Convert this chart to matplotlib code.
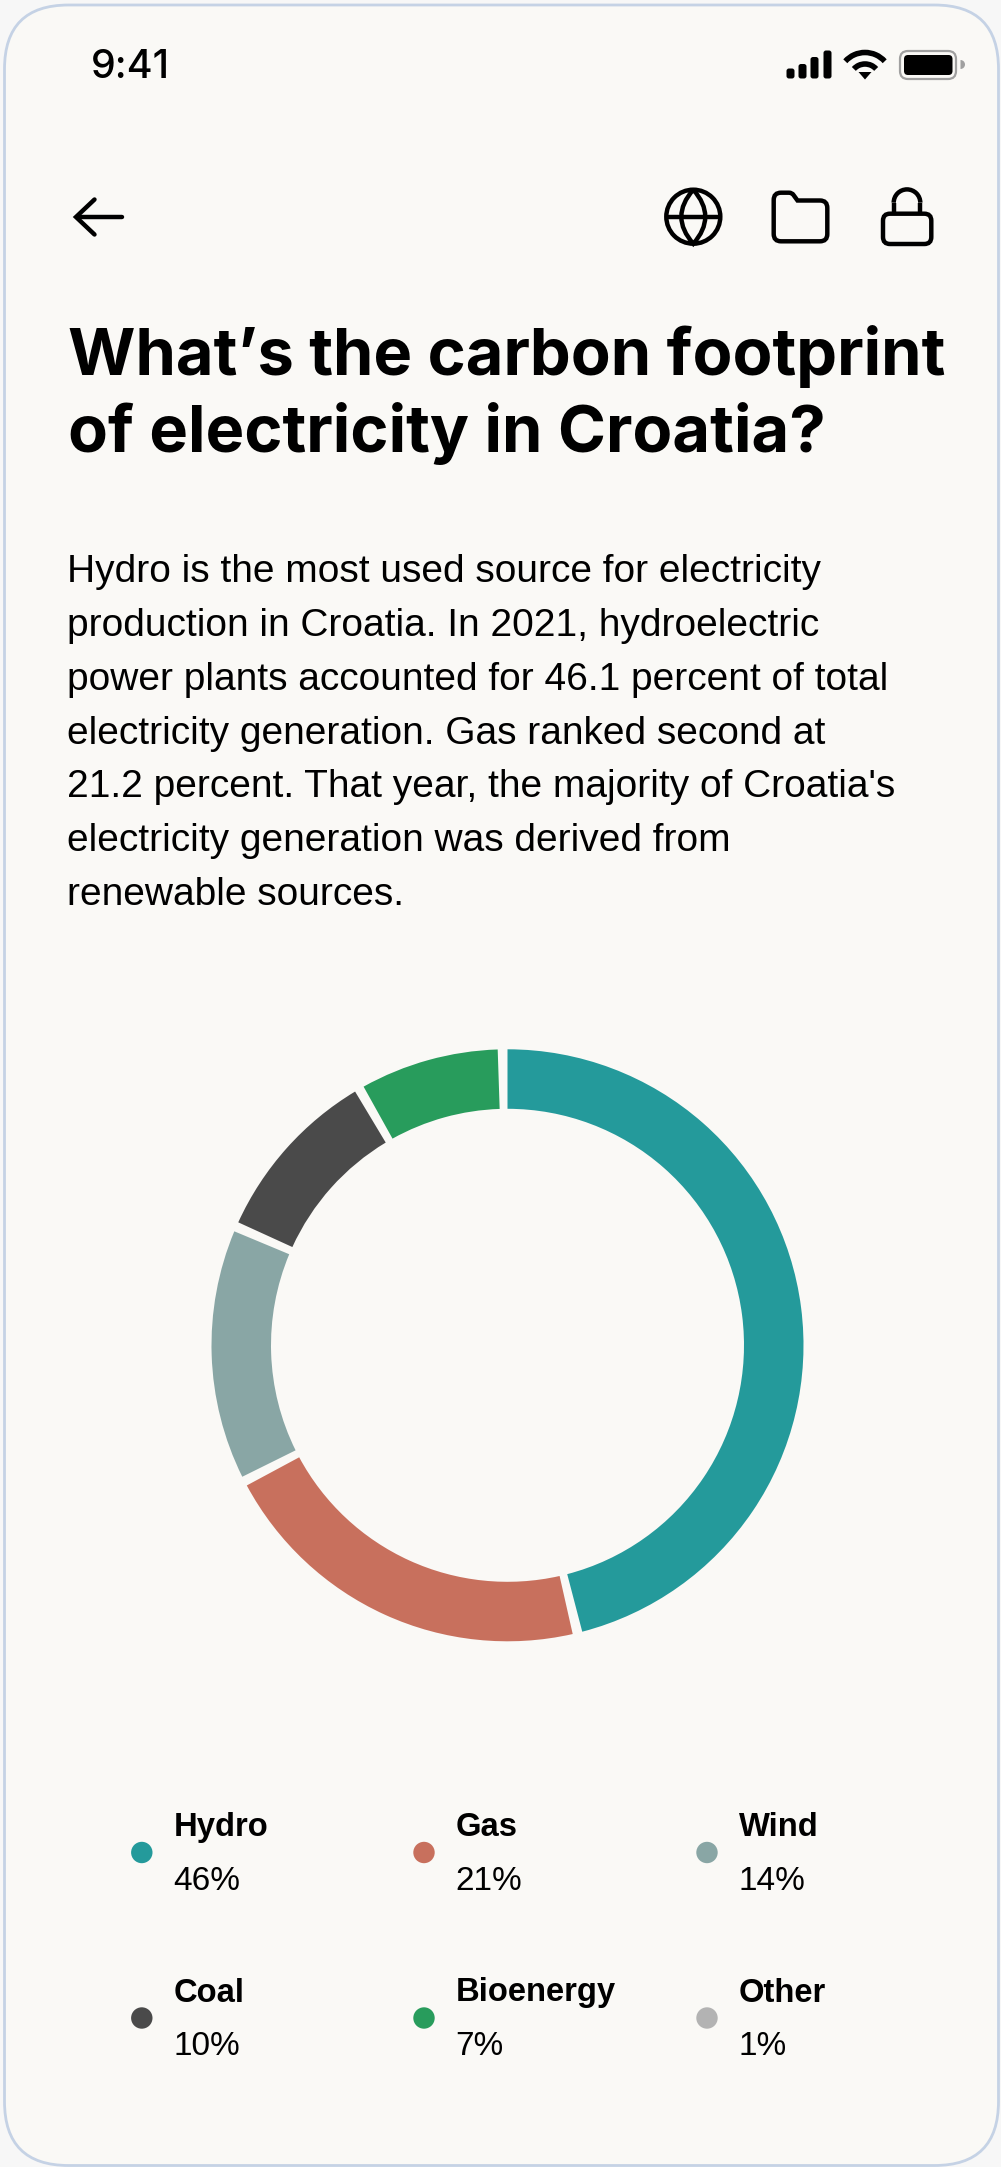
import matplotlib
matplotlib.use('Agg')
import matplotlib.pyplot as plt
from matplotlib.patches import Circle, FancyBboxPatch, Polygon, Arc, PathPatch, Wedge
from matplotlib.path import Path

sources = ['Hydro', 'Gas', 'Wind', 'Coal', 'Bioenergy', 'Other']
shares = [46, 21, 14, 10, 7, 1]
source_colors = ['#249A9B', '#C8705D', '#89A6A5', '#4A4A4A', '#289C5C', '#B3B3B3']

title_lines = ['What\u2019s the carbon footprint', 'of electricity in Croatia?']
body_lines = [
    'Hydro is the most used source for electricity',
    'production in Croatia. In 2021, hydroelectric',
    'power plants accounted for 46.1 percent of total',
    'electricity generation. Gas ranked second at',
    "21.2 percent. That year, the majority of Croatia's",
    'electricity generation was derived from',
    'renewable sources.',
]

BG = '#FAF9F6'
INK = '#000000'
ICON_LW = 3.2
W, H = 1001, 2167

fig = plt.figure(figsize=(W / 100, H / 100), dpi=100, facecolor='#F7F7F7')
page = fig.add_axes([0, 0, 1, 1])
page.set_xlim(0, W)
page.set_ylim(H, 0)
page.axis('off')


def text(x, y, s, size, **kw):
    kw.setdefault('color', INK)
    kw.setdefault('va', 'baseline')
    page.text(x, y, s, fontsize=size, **kw)


def rounded(x0, y0, x1, y1, r, **kw):
    page.add_patch(FancyBboxPatch((x0 + r, y0 + r), x1 - x0 - 2 * r, y1 - y0 - 2 * r,
                                  boxstyle=f'round,pad={r},rounding_size={r}', **kw))


# phone outline
rounded(4.5, 5, 998.5, 2165.5, 64, fc=BG, ec='#C5D2E5', lw=2)

# status bar
text(91, 78, '9:41', 28.4, family='Inter', weight='medium')
for x0, top in zip([786.5, 798.5, 810.5, 823.5], [68.5, 64, 57, 50.5]):
    rounded(x0, top, x0 + 8, 78.5, 2.5, fc=INK, ec='none')
for r in [26.5, 15]:
    page.add_patch(Arc((865, 79), r * 2, r * 2, theta1=222, theta2=318, color=INK, lw=4))
page.add_patch(Polygon([[858.5, 72], [871.5, 72], [865, 79.5]], fc=INK, ec='none'))
rounded(900, 51, 956, 79, 8, fc='none', ec='#A0A0A0', lw=1.6)
rounded(904, 55, 952.5, 75, 4, fc=INK, ec='none')
page.add_patch(Wedge((960.5, 64.5), 4.5, 270, 90, fc='#A0A0A0', ec='none'))

# back arrow
page.plot([77, 122], [217, 217], color=INK, lw=ICON_LW, solid_capstyle='round')
page.plot([94.5, 76, 94.5], [199.5, 217, 234.5], color=INK, lw=ICON_LW, solid_capstyle='round',
          solid_joinstyle='miter')

# globe icon
cx, cy = 693.3, 216.7
page.add_patch(Circle((cx, cy), 27, fc='none', ec=INK, lw=ICON_LW))
lens = Path([(cx, cy - 27), (cx - 24, cy), (cx, cy + 27), (cx + 24, cy), (cx, cy - 27)],
            [Path.MOVETO, Path.CURVE3, Path.CURVE3, Path.CURVE3, Path.CURVE3])
page.add_patch(PathPatch(lens, fc='none', ec=INK, lw=ICON_LW))
page.plot([cx - 27, cx + 27], [cy, cy], color=INK, lw=ICON_LW, solid_capstyle='butt')

# folder icon
folder = Path([(773.7, 200), (773.7, 192.7), (781, 192.7),
               (789, 192.7), (792, 192.7), (793.5, 195),
               (797.5, 200.5), (820, 200.5), (827.3, 200.5), (827.3, 208),
               (827.3, 234), (827.3, 241.3), (820, 241.3),
               (781, 241.3), (773.7, 241.3), (773.7, 234), (773.7, 200)],
              [Path.MOVETO, Path.CURVE3, Path.CURVE3,
               Path.LINETO, Path.CURVE3, Path.CURVE3,
               Path.LINETO, Path.LINETO, Path.CURVE3, Path.CURVE3,
               Path.LINETO, Path.CURVE3, Path.CURVE3,
               Path.LINETO, Path.CURVE3, Path.CURVE3, Path.CLOSEPOLY])
page.add_patch(PathPatch(folder, fc='none', ec=INK, lw=ICON_LW))

# lock icon
rounded(883, 213.7, 931.3, 244, 7, fc='none', ec=INK, lw=ICON_LW)
page.plot([893.7, 893.7], [213.7, 202.7], color=INK, lw=ICON_LW, solid_capstyle='butt')
page.plot([920.3, 920.3], [213.7, 202.7], color=INK, lw=ICON_LW, solid_capstyle='butt')
page.add_patch(Arc((907, 202.7), 26.6, 26.6, theta1=180, theta2=360, color=INK, lw=ICON_LW))

# heading and paragraph
for i, line in enumerate(title_lines):
    text(68, 375 + i * 77, line, 46.8, family='Inter', weight='bold')
for i, line in enumerate(body_lines):
    text(67, 582.5 + i * 53.7, line, 28, family='Liberation Sans')

# ring, Other folded into the last visible segment; each segment stops short of the next
ring_values = shares[:4] + [shares[4] + shares[5]]
ring_colors = source_colors[:5]
ring_cx, ring_cy, ring_r = 507.5, 1345.3, 296
ring_gap = 1.9
ring = fig.add_axes([(ring_cx - ring_r - 10) / W, 1 - (ring_cy + ring_r + 10) / H,
                     (2 * ring_r + 20) / W, (2 * ring_r + 20) / H])
ring.axis('off')
ring.set_xlim(-ring_r - 10, ring_r + 10)
ring.set_ylim(-ring_r - 10, ring_r + 10)
done = 0
for value, color in zip(ring_values, ring_colors):
    start = 90 - 360 * done / sum(ring_values)
    done += value
    end = 90 - 360 * done / sum(ring_values) + ring_gap
    ring.add_patch(Wedge((0, 0), ring_r, end, start, width=59.5, fc=color, ec='none'))

# legend grid
col_x = [141.8, 424, 707]
row_y = [1852.5, 2018]
for i, (name, share, color) in enumerate(zip(sources, shares, source_colors)):
    x = col_x[i % 3]
    y = row_y[i // 3]
    page.add_patch(Circle((x, y), 10.7, fc=color, ec='none'))
    text(x + 31.5, y - 16.5, name, 23.6, family='Liberation Sans', weight='bold')
    text(x + 31.5, y + 37, f'{share}%', 24, family='Liberation Sans')

fig.savefig('out.png', dpi=100, facecolor=fig.get_facecolor())
